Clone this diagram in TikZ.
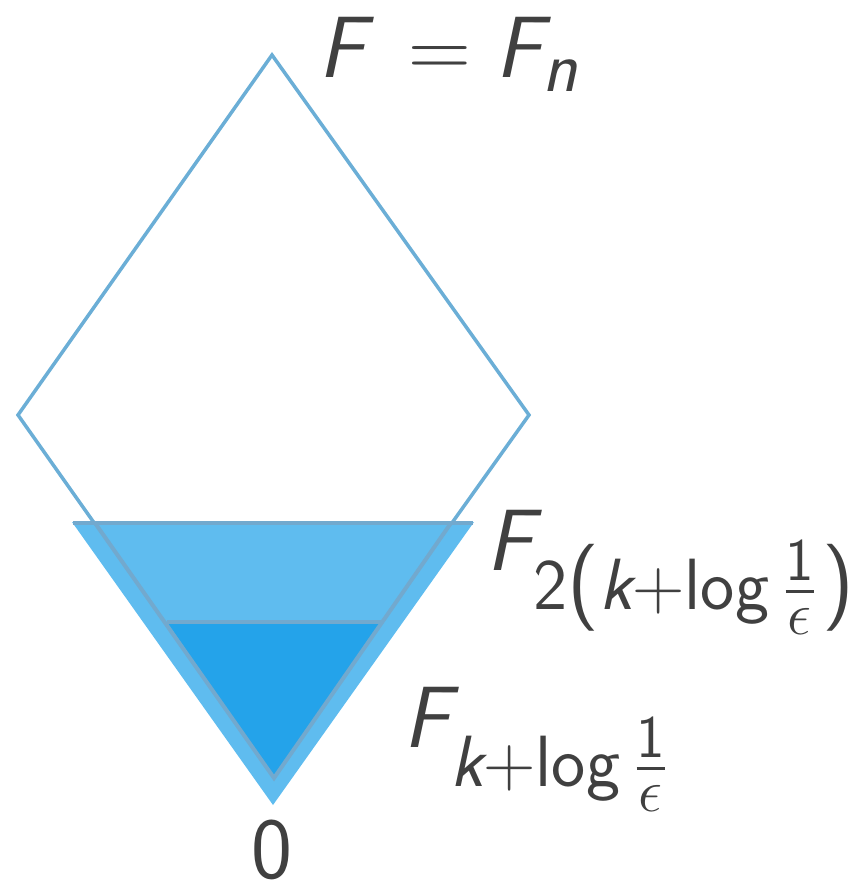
\documentclass[tikz,border=0pt]{standalone}
\usepackage{amsmath}
\usepackage{tikz}
\usepackage{xcolor}
\definecolor{diamondcolor}{RGB}{107,174,214}
\definecolor{rimcolor}{RGB}{114,169,206}
\definecolor{outercolor}{RGB}{95,188,239}
\definecolor{innercolor}{RGB}{36,163,234}
\definecolor{labelcolor}{RGB}{64,64,64}
\newcommand{\sfit}[1]{\textsf{\slshape #1}}
\newcommand{\sfup}[1]{\textsf{\upshape #1}}

\begin{document}
\begin{tikzpicture}[
    x=1pt, y=-1pt,
    edge/.style={draw=diamondcolor, line width=3.5pt, line join=miter},
    rim/.style={draw=rimcolor, line width=4pt, line join=miter},
    lbl/.style={text=labelcolor, font=\Huge, scale=3.5, inner sep=0pt}
]
\useasboundingbox (0,0) rectangle (864,882);

% diamond
\coordinate (top) at (272,55);
\coordinate (left) at (18,415);
\coordinate (right) at (529,415);
\coordinate (bottom) at (272,775);
\draw[edge] (top) -- (left) -- (bottom) -- (right) -- cycle;

% outer triangle
\coordinate (ol) at (72,522);
\coordinate (or) at (474,522);
\coordinate (oa) at (273,805);
\fill[outercolor] (ol) -- (or) -- (oa) -- cycle;
\coordinate (il) at (95,523);
\coordinate (ir) at (451,523);
\coordinate (ia) at (274,778);
\draw[rim] (73,523) -- (473,523);

% inner triangle
\coordinate (sl) at (167,622);
\coordinate (sr) at (381,622);
\fill[innercolor] (sl) -- (sr) -- (ia) -- cycle;
\draw[rim] (sl) -- (sr);
\draw[rim] (il) -- (ia) -- (ir);

% labels
\node[lbl, anchor=base west] (fn) at (318,78)
    {$\sfit{F}\mkern4mu = \sfit{F}_{\sfit{n}}$};
\node[lbl, anchor=base west] (f2) at (486,570)
    {$\sfit{F}_{\sfup{2}{\textstyle\sfup{(}}\sfit{k}+\sfup{log}\,\frac{\sfup{1}}{\epsilon}\mkern1mu{\textstyle\sfup{)}}}$};
\node[lbl, anchor=base west] (fk) at (403,747)
    {$\sfit{F}_{\sfit{k}+\sfup{log}\,\frac{\sfup{1}}{\epsilon}}$};
\node[lbl, anchor=base] (zero) at (272,878) {\sfup{0}};
\end{tikzpicture}
\end{document}
